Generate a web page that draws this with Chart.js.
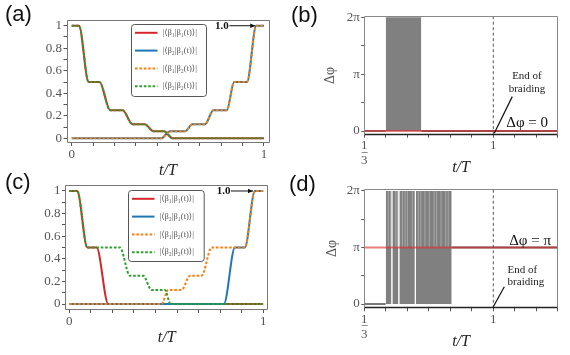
<!DOCTYPE html>
<html><head><meta charset="utf-8">
<script src="https://cdn.jsdelivr.net/npm/chart.js@4.4.0/dist/chart.umd.min.js"></script>
<style>
html,body{margin:0;padding:0;background:#fff;}
#wrap{position:relative;width:570px;height:355px;overflow:hidden;background:#fff;}
canvas{position:absolute;left:0;top:0;}
.lab{position:absolute;font-family:'Liberation Sans',Arial,sans-serif;font-size:22px;line-height:22px;color:#111;}
</style></head><body>
<div id="wrap">
<canvas id="ca" width="570" height="355"></canvas>
<canvas id="cb" width="570" height="355"></canvas>
<canvas id="cc" width="570" height="355"></canvas>
<canvas id="cd" width="570" height="355"></canvas>
<div class="lab" style="left:5px;top:3px">(a)</div>
<div class="lab" style="left:291px;top:4px">(b)</div>
<div class="lab" style="left:5px;top:171px">(c)</div>
<div class="lab" style="left:289px;top:173px">(d)</div>
</div>
<script>
// ---------- data ----------
const PI = Math.PI;
const legendLabels = ['|⟨β₁|β₁(t)⟩|', '|⟨β₂|β₁(t)⟩|', '|⟨β₁|β₂(t)⟩|', '|⟨β₂|β₂(t)⟩|'];

// panel (a): overlaps during braiding
const tA_b1b1 = [0, 0.038, 0.088, 0.145, 0.2, 0.265, 0.316, 0.38, 0.425, 0.48, 0.525, 1];
const vA_b1b1 = [1, 1, 0.5, 0.5, 0.25, 0.25, 0.125, 0.125, 0.0625, 0.0625, 0, 0];
const tA_b2b1 = [0, 0.465, 0.512, 0.59, 0.628, 0.694, 0.737, 0.807, 0.845, 0.912, 0.96, 1];
const vA_b2b1 = [0, 0, 0.0625, 0.0625, 0.125, 0.125, 0.25, 0.25, 0.5, 0.5, 1, 1];
const tA_b1b2 = [0, 0.465, 0.512, 0.59, 0.628, 0.694, 0.737, 0.807, 0.845, 0.912, 0.96, 1];
const vA_b1b2 = [0, 0, 0.0625, 0.0625, 0.125, 0.125, 0.25, 0.25, 0.5, 0.5, 1, 1];
const tA_b2b2 = [0, 0.038, 0.088, 0.145, 0.2, 0.265, 0.316, 0.38, 0.425, 0.48, 0.525, 1];
const vA_b2b2 = [1, 1, 0.5, 0.5, 0.25, 0.25, 0.125, 0.125, 0.0625, 0.0625, 0, 0];

// panel (c)
const tC_b1b1 = [0, 0.041, 0.093, 0.141, 0.201, 1];
const vC_b1b1 = [1, 1, 0.5, 0.5, 0, 0];
const tC_b2b1 = [0, 0.797, 0.854, 0.905, 0.957, 1];
const vC_b2b1 = [0, 0, 0.5, 0.5, 1, 1];
const tC_b1b2 = [0, 0.476, 0.51, 0.579, 0.622, 0.682, 0.734, 0.905, 0.957, 1];
const vC_b1b2 = [0, 0, 0.125, 0.125, 0.25, 0.25, 0.5, 0.5, 1, 1];
const tC_b2b2 = [0, 0.041, 0.093, 0.261, 0.313, 0.381, 0.424, 0.493, 0.522, 1];
const vC_b2b2 = [1, 1, 0.5, 0.5, 0.25, 0.25, 0.125, 0.125, 0, 0];

// panel (b): relative phase
const tB_pre = [1/3, 0.444];
const vB_pre = [0, 0];
const tB_post = [0.628, 4/3];
const vB_post = [0, 0];
const bandB = [[0.444, 0.628]];          // rapid 0..2π oscillation
const refB = 0;                           // Δφ = 0

// panel (d)
const tD_pre = [1/3, 0.444];
const vD_pre = [0, 0];
const tD_post = [0.785, 4/3];
const vD_post = [PI, PI];
const bandD = [[0.444, 0.4735], [0.4785, 0.5095], [0.5145, 0.5945], [0.5995, 0.785]];
const stripesD = [0.457, 0.470, 0.496, 0.504, 0.530, 0.544, 0.556, 0.581, 0.612, 0.625, 0.647, 0.669, 0.694, 0.707, 0.730, 0.754, 0.767];
const refD = PI;                          // Δφ = π

// ticks
const xTicksAC = [0, 1/9, 2/9, 3/9, 4/9, 5/9, 6/9, 7/9, 8/9, 1];
const xTickLabelsAC = ['0', '', '', '', '', '', '', '', '', '1'];
const yTicksAC = [0, 0.1, 0.2, 0.3, 0.4, 0.5, 0.6, 0.7, 0.8, 0.9, 1];
const yTickLabelsAC = ['0', '', '0.2', '', '0.4', '', '0.6', '', '0.8', '', '1'];
const xTicksBD = [1/3, 4/9, 5/9, 6/9, 7/9, 8/9, 1, 10/9, 11/9, 4/3];
const xTickLabelsBD = [['1', '−', '3'], '', '', '', '', '', '1', '', '', ''];
const yTicksBD = [0, PI/2, PI, 3*PI/2, 2*PI];
const yTickLabelsBD = ['0', '', 'π', '', '2π'];

// ---------- helpers ----------
const SERIF = "'Liberation Serif', 'DejaVu Serif', serif";
function pts(xs, ys) { return xs.map((x, i) => ({x: x, y: ys[i]})); }
function setTicks(vals) { return axis => { axis.ticks = vals.map(v => ({value: v})); }; }

const framePlugin = {
  id: 'frame',
  afterDatasetsDraw(chart, args, o) {
    const a = chart.chartArea, ctx = chart.ctx;
    const l = Math.round(a.left) + 0.5, r = Math.round(a.right) - 0.5, t = Math.round(a.top) + 0.5, b = Math.round(a.bottom) - 0.5;
    ctx.save();
    ctx.strokeStyle = o.color; ctx.lineWidth = 1;
    ctx.beginPath(); ctx.moveTo(l, b); ctx.lineTo(l, t); ctx.lineTo(r, t); ctx.lineTo(r, b); ctx.stroke();
    ctx.strokeStyle = o.bottomColor; ctx.lineWidth = o.bottomWidth;
    ctx.beginPath(); ctx.moveTo(l, b); ctx.lineTo(r, b); ctx.stroke();
    ctx.restore();
  }
};

const legendPlugin = {
  id: 'boxLegend',
  afterDraw(chart, args, o) {
    if (!o || !o.display) return;
    const ca = chart.chartArea, ctx = chart.ctx;
    const x = Math.round(ca.left + o.dx) + 0.5, y = Math.round(ca.top + o.dy) + 0.5, w = o.w, h = o.h, r = 3;
    ctx.save();
    ctx.beginPath();
    ctx.moveTo(x + r, y); ctx.lineTo(x + w - r, y); ctx.arcTo(x + w, y, x + w, y + r, r);
    ctx.lineTo(x + w, y + h - r); ctx.arcTo(x + w, y + h, x + w - r, y + h, r);
    ctx.lineTo(x + r, y + h); ctx.arcTo(x, y + h, x, y + h - r, r);
    ctx.lineTo(x, y + r); ctx.arcTo(x, y, x + r, y, r); ctx.closePath();
    ctx.fillStyle = 'rgba(255,255,255,0.85)'; ctx.fill();
    ctx.strokeStyle = '#555'; ctx.lineWidth = 1; ctx.stroke();
    const ds = chart.data.datasets.filter(d => d.inLegend);
    ds.forEach((d, i) => {
      const yy = y + o.row0 + i * o.rowGap;
      ctx.beginPath(); ctx.setLineDash(d.borderDash || []);
      ctx.strokeStyle = d.borderColor; ctx.lineWidth = d.borderWidth;
      ctx.moveTo(x + 3.5, yy); ctx.lineTo(x + 26, yy); ctx.stroke();
      ctx.setLineDash([]);
      ctx.fillStyle = '#555'; ctx.font = o.font; ctx.textBaseline = 'middle'; ctx.textAlign = 'left';
      ctx.fillText(d.label, x + 31, yy);
    });
    ctx.restore();
  }
};

const annotPlugin = {
  id: 'annot',
  afterDraw(chart, args, o) {
    const ctx = chart.ctx, xs = chart.scales.x, ys = chart.scales.y;
    (o.items || []).forEach(it => {
      ctx.save();
      if (it.type === 'text') {
        ctx.font = it.font; ctx.fillStyle = it.color || '#222';
        ctx.textAlign = it.align || 'left'; ctx.textBaseline = 'middle';
        ctx.fillText(it.text, xs.getPixelForValue(it.x), ys.getPixelForValue(it.y));
      } else {
        const x1 = xs.getPixelForValue(it.x1), y1 = ys.getPixelForValue(it.y1);
        const x2 = xs.getPixelForValue(it.x2), y2 = ys.getPixelForValue(it.y2);
        ctx.strokeStyle = it.color || '#222'; ctx.fillStyle = it.color || '#222'; ctx.lineWidth = it.width || 1;
        ctx.beginPath(); ctx.moveTo(x1, y1); ctx.lineTo(x2, y2); ctx.stroke();
        if (it.type === 'arrow') {
          const ang = Math.atan2(y2 - y1, x2 - x1), L = 5, W = 2.2;
          ctx.beginPath();
          ctx.moveTo(x2, y2);
          ctx.lineTo(x2 - L * Math.cos(ang) + W * Math.sin(ang), y2 - L * Math.sin(ang) - W * Math.cos(ang));
          ctx.lineTo(x2 - L * Math.cos(ang) - W * Math.sin(ang), y2 - L * Math.sin(ang) + W * Math.cos(ang));
          ctx.closePath(); ctx.fill();
        }
      }
      ctx.restore();
    });
  }
};

const TICKFONT = {family: SERIF, size: 13};
const GRID = {drawOnChartArea: false, drawTicks: true, tickLength: 3, color: '#555', lineWidth: 1};

function overlapChart(id, L, area, series, annot, legendPos) {
  const colors = ['#d62728', '#1f77b4', '#ff7f0e', '#2ca02c'];
  const dashes = [[], [], [2.6, 1.8], [2.6, 1.8]];
  const orders = [4, 3, 2, 1];
  const datasets = series.map((s, i) => ({
    label: legendLabels[i], inLegend: true,
    data: pts(s[0], s[1]),
    borderColor: colors[i], borderWidth: 2, borderDash: dashes[i],
    pointRadius: 0, fill: false, cubicInterpolationMode: 'monotone', order: orders[i]
  }));
  const hx = area.titleY - area.bottom + 9.6;
  return new Chart(document.getElementById(id), {
    type: 'line',
    data: {datasets: datasets},
    options: {
      responsive: false, animation: false, events: [],
      layout: {padding: {left: 0, top: area.top, right: 570 - area.right, bottom: 355 - area.bottom - hx}},
      scales: {
        x: {
          type: 'linear', min: area.xmin, max: area.xmax,
          afterBuildTicks: setTicks(xTicksAC),
          afterFit: s => { s.height = hx; },
          ticks: {autoSkip: false, maxRotation: 0, minRotation: 0, padding: 1, color: '#555', font: TICKFONT,
                  callback: (v, i) => xTickLabelsAC[i]},
          grid: GRID, border: {display: false},
          title: {display: true, text: 't/T', color: '#222', padding: 0,
                  font: {family: SERIF, size: 16, style: 'italic'}}
        },
        y: {
          type: 'linear', min: area.ymin, max: area.ymax,
          afterBuildTicks: setTicks(yTicksAC),
          afterFit: s => { s.width = area.left; },
          ticks: {autoSkip: false, padding: 1.5, color: '#555', font: TICKFONT,
                  callback: (v, i) => yTickLabelsAC[i]},
          grid: GRID, border: {display: false}
        }
      },
      plugins: {
        legend: {display: false}, tooltip: {enabled: false},
        frame: {color: '#777', bottomColor: '#777', bottomWidth: 1},
        boxLegend: Object.assign({display: true, font: "8.5px " + SERIF, row0: 8.3, rowGap: 17.8}, legendPos),
        annot: {items: annot}
      }
    },
    plugins: [framePlugin, legendPlugin, annotPlugin]
  });
}

function phaseChart(id, area, pre, post, bands, stripes, ref, annot) {
  const datasets = [];
  datasets.push({label: 'ref', data: pts([1/3, 4/3], [ref, ref]), borderColor: 'rgba(220,40,40,0.6)',
                 borderWidth: 2, pointRadius: 0, fill: false, order: 0});
  datasets.push({label: 'end', data: pts([1, 1], [area.ymin, area.ymax]), borderColor: '#555',
                 borderWidth: 1, borderDash: [3, 2.5], pointRadius: 0, fill: false, order: 1});
  datasets.push({label: 'pre', data: pts(pre[0], pre[1]), borderColor: '#7a7a7a', borderWidth: 2,
                 pointRadius: 0, fill: false, order: 2});
  datasets.push({label: 'post', data: pts(post[0], post[1]), borderColor: '#6a6a6a', borderWidth: 2.2,
                 pointRadius: 0, fill: false, order: 2});
  if (stripes.length) {
    const sd = [];
    stripes.forEach(t => { sd.push({x: t, y: PI}); sd.push({x: t, y: 2 * PI}); sd.push({x: t, y: null}); });
    datasets.push({label: 'stripes', data: sd, borderColor: '#a8a8a8', borderWidth: 1, pointRadius: 0,
                   fill: false, spanGaps: false, order: 3});
  }
  bands.forEach(b => {
    datasets.push({label: 'band', data: pts([b[0], b[1]], [2 * PI, 2 * PI]), borderColor: '#808080',
                   borderWidth: 0, backgroundColor: '#808080', pointRadius: 0, fill: 'origin', order: 5});
  });
  const hx = area.titleY - area.bottom + 9.6;
  return new Chart(document.getElementById(id), {
    type: 'line',
    data: {datasets: datasets},
    options: {
      responsive: false, animation: false, events: [],
      layout: {padding: {left: 300, top: area.top, right: 570 - area.right, bottom: 355 - area.bottom - hx}},
      scales: {
        x: {
          type: 'linear', min: 1/3, max: 4/3,
          afterBuildTicks: setTicks(xTicksBD),
          afterFit: s => { s.height = hx; },
          ticks: {autoSkip: false, maxRotation: 0, minRotation: 0, padding: 4.5, color: '#555',
                  font: {family: SERIF, size: 13, lineHeight: '7.5px'},
                  callback: (v, i) => xTickLabelsBD[i]},
          grid: GRID, border: {display: false},
          title: {display: true, text: 't/T', color: '#222', padding: 0,
                  font: {family: SERIF, size: 16, style: 'italic'}}
        },
        y: {
          type: 'linear', min: area.ymin, max: area.ymax,
          afterBuildTicks: setTicks(yTicksBD),
          afterFit: s => { s.width = area.left - 300; },
          ticks: {autoSkip: false, padding: 1.5, color: '#555', font: TICKFONT,
                  callback: (v, i) => yTickLabelsBD[i]},
          grid: GRID, border: {display: false},
          title: {display: true, text: 'Δφ', color: '#555', padding: {top: area.titlePad, bottom: 0},
                  font: {family: SERIF, size: 14}}
        }
      },
      plugins: {
        legend: {display: false}, tooltip: {enabled: false},
        frame: {color: '#888', bottomColor: '#222', bottomWidth: 1.5},
        annot: {items: annot}
      }
    },
    plugins: [framePlugin, annotPlugin]
  });
}

// ---------- build ----------
overlapChart('ca', 'a',
  {left: 66.5, right: 269.5, top: 20, bottom: 143, titleY: 171, xmin: -0.027, xmax: 1.029, ymin: -0.042, ymax: 1.051},
  [[tA_b1b1, vA_b1b1], [tA_b2b1, vA_b2b1], [tA_b1b2, vA_b1b2], [tA_b2b2, vA_b2b2]],
  [{type: 'text', x: 0.746, y: 0.995, text: '1.0', font: "bold 11px " + SERIF, color: '#111', align: 'left'},
   {type: 'arrow', x1: 0.82, y1: 1.0, x2: 0.955, y2: 1.0, color: '#111', width: 1}],
  {dx: 64.2, dy: 4, w: 75, h: 72});

overlapChart('cc', 'c',
  {left: 65, right: 268.3, top: 185, bottom: 310, titleY: 338, xmin: -0.022, xmax: 1.026, ymin: -0.053, ymax: 1.053},
  [[tC_b1b1, vC_b1b1], [tC_b2b1, vC_b2b1], [tC_b1b2, vC_b1b2], [tC_b2b2, vC_b2b2]],
  [{type: 'text', x: 0.76, y: 0.995, text: '1.0', font: "bold 11px " + SERIF, color: '#111', align: 'left'},
   {type: 'arrow', x1: 0.833, y1: 1.0, x2: 0.947, y2: 1.0, color: '#111', width: 1}],
  {dx: 63.3, dy: 5, w: 75.7, h: 71});

phaseChart('cb',
  {left: 364.3, right: 557.8, top: 16, bottom: 134.7, titleY: 168, ymin: -0.204, ymax: 6.355, titlePad: 21.6},
  [tB_pre, vB_pre], [tB_post, vB_post], bandB, [], refB,
  [{type: 'text', x: 1.174, y: 3.06, text: 'End of', font: "11px " + SERIF, align: 'center', color: '#222'},
   {type: 'text', x: 1.174, y: 2.30, text: 'braiding', font: "11px " + SERIF, align: 'center', color: '#222'},
   {type: 'line', x1: 1.098, y1: 1.90, x2: 1.005, y2: -0.13, color: '#111', width: 1.2},
   {type: 'text', x: 1.175, y: 0.42, text: 'Δφ = 0', font: "15px " + SERIF, align: 'center', color: '#111'}]);

phaseChart('cd',
  {left: 364.3, right: 557.8, top: 188.5, bottom: 308.3, titleY: 341.7, ymin: -0.239, ymax: 6.422, titlePad: 23.6},
  [tD_pre, vD_pre], [tD_post, vD_post], bandD, stripesD, refD,
  [{type: 'text', x: 1.074, y: 1.89, text: 'End of', font: "11px " + SERIF, align: 'left', color: '#222'},
   {type: 'text', x: 1.074, y: 1.20, text: 'braiding', font: "11px " + SERIF, align: 'left', color: '#222'},
   {type: 'line', x1: 1.057, y1: 0.96, x2: 1.0, y2: -0.15, color: '#111', width: 1.2},
   {type: 'text', x: 1.19, y: 3.51, text: 'Δφ = π', font: "15px " + SERIF, align: 'center', color: '#111'}]);
</script>
</body></html>
